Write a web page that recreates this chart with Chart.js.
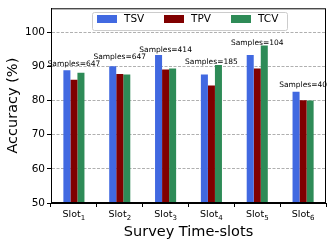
<!DOCTYPE html>
<html lang="en">
<head>
<meta charset="UTF-8">
<title>Accuracy per survey time-slot</title>
<script src="https://cdn.jsdelivr.net/npm/chart.js"></script>
<style>
    body { margin: 0; background: #fff; }
    canvas { display: block; }
</style>
</head>
<body>
<canvas id="chart" width="332" height="246"></canvas>
<script>
    const slotNums = ['1', '2', '3', '4', '5', '6'];
    const tsv = [88.9, 90.0, 93.3, 87.6, 93.3, 82.6];
    const tpv = [86.1, 87.8, 89.1, 84.4, 89.4, 80.1];
    const tcv = [88.1, 87.6, 89.4, 90.4, 96.1, 80.0];
    const sampleCounts = [647, 647, 414, 185, 104, 40];
    const sampleLabelY = [90.7, 92.7, 94.9, 91.2, 96.9, 84.4];

    const FONT = 'DejaVu Sans';

    // frame, "Samples=" notes, Slot labels with subscripts and the legend
    const extras = {
        id: 'extras',
        afterDatasetsDraw(chart) {
            const ctx = chart.ctx;
            const a = chart.chartArea;
            const xs = chart.scales.x, ys = chart.scales.y;
            ctx.save();

            ctx.font = '7.5px "' + FONT + '"';
            ctx.fillStyle = '#000';
            ctx.textAlign = 'center';
            ctx.textBaseline = 'middle';
            sampleCounts.forEach((n, i) => {
                ctx.fillText('Samples=' + n, xs.getPixelForValue(i), ys.getPixelForValue(sampleLabelY[i]));
            });

            // x tick labels: Slot with subscript number
            ctx.textBaseline = 'alphabetic';
            ctx.textAlign = 'left';
            slotNums.forEach((n, i) => {
                ctx.font = '9.5px "' + FONT + '"';
                const w1 = ctx.measureText('Slot').width;
                ctx.font = '7px "' + FONT + '"';
                const w2 = ctx.measureText(n).width;
                const x0 = xs.getPixelForValue(i) - (w1 + w2) / 2;
                ctx.font = '9.5px "' + FONT + '"';
                ctx.fillText('Slot', x0, 217);
                ctx.font = '7px "' + FONT + '"';
                ctx.fillText(n, x0 + w1, 220);
            });

            // legend
            const lx = 92.5, ly = 12.5, lw = 195, lh = 18;
            ctx.fillStyle = 'rgba(255,255,255,0.85)';
            ctx.strokeStyle = '#ccc';
            ctx.lineWidth = 1;
            ctx.beginPath();
            ctx.roundRect(lx, ly, lw, lh, 2);
            ctx.fill();
            ctx.stroke();
            ctx.font = '10.5px "' + FONT + '"';
            ctx.textBaseline = 'middle';
            let x = lx + 4.5;
            chart.data.datasets.forEach(ds => {
                ctx.fillStyle = ds.backgroundColor;
                ctx.fillRect(x, ly + 2.5, 20, 8);
                ctx.fillStyle = '#000';
                ctx.fillText(ds.label, x + 27, ly + 7);
                x += 67;
            });

            // frame
            ctx.strokeStyle = '#000';
            ctx.lineWidth = 1;
            ctx.strokeRect(a.left + 0.5, a.top + 0.5, a.right - a.left - 1, a.bottom - a.top - 1);
            ctx.restore();
        }
    };

    new Chart(document.getElementById('chart'), {
        type: 'bar',
        data: {
            labels: slotNums.map(n => 'Slot' + n),
            datasets: [
                { label: 'TSV', data: tsv, backgroundColor: '#4169e1' },
                { label: 'TPV', data: tpv, backgroundColor: '#800000' },
                { label: 'TCV', data: tcv, backgroundColor: '#2e8b57' }
            ]
        },
        options: {
            responsive: false,
            animation: false,
            layout: { padding: { top: 5, right: 6, left: 0, bottom: 0 } },
            datasets: { bar: { barPercentage: 1, categoryPercentage: 0.46 } },
            plugins: { legend: { display: false }, tooltip: { enabled: false } },
            scales: {
                x: {
                    grid: { display: true, drawOnChartArea: false, tickColor: '#000', tickLength: 4 },
                    border: { color: '#000' },
                    ticks: { color: 'rgba(0,0,0,0)', font: { family: FONT, size: 9 }, padding: 2, maxRotation: 0 },
                    title: { display: true, text: 'Survey Time-slots', color: '#000', font: { family: FONT, size: 14.5 }, padding: { top: 0, bottom: 5 } },
                    afterFit(s) { s.height = 43; }
                },
                y: {
                    min: 50,
                    max: 107,
                    afterBuildTicks(s) { s.ticks = s.ticks.filter(t => t.value % 10 === 0); },
                    grid: { color: '#b0b0b0', tickColor: '#000', tickLength: 4 },
                    border: { color: '#000', dash: [3, 1.5] },
                    ticks: { color: '#000', font: { family: FONT, size: 10.5 }, stepSize: 10, padding: 2 },
                    title: { display: true, text: 'Accuracy (%)', color: '#000', font: { family: FONT, size: 14.5 }, padding: { top: 5, bottom: 0 } },
                    afterFit(s) { s.width = 51; }
                }
            }
        },
        plugins: [extras]
    });
</script>
</body>
</html>
